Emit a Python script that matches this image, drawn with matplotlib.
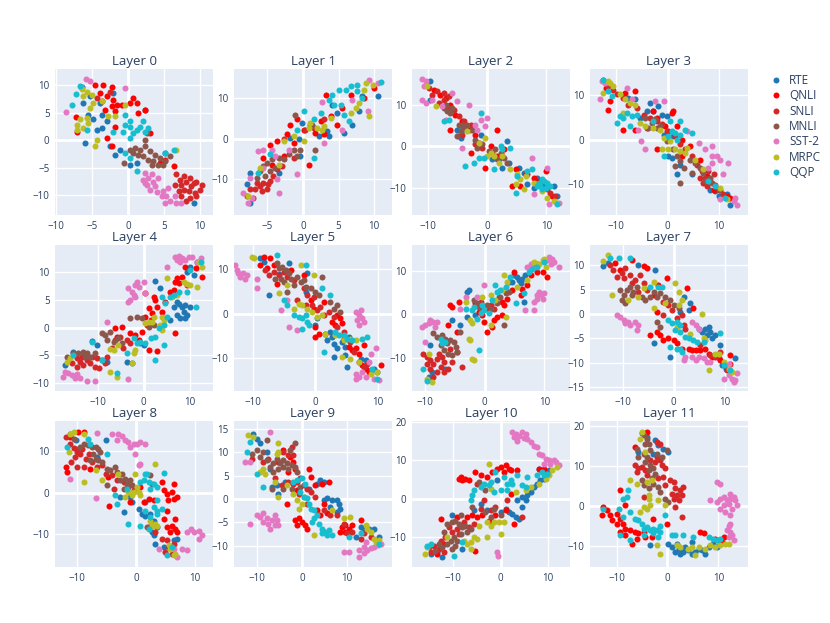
import matplotlib.pyplot as plt
from matplotlib.ticker import MultipleLocator
from matplotlib.lines import Line2D

plt.rcParams['font.family'] = ['Open Sans', 'DejaVu Sans']

TASKS = ["RTE", "QNLI", "SNLI", "MNLI", "SST-2", "MRPC", "QQP"]
COLORS = ["#1f77b4", "#ff0000", "#d62728", "#8c564b", "#e377c2", "#bcbd22", "#17becf"]

# points, (x, y) per task for each layer
L0 = {
    "RTE": [(-6.5,9.8),(-5.3,8.0),(-4.0,6.8),(-6.3,6.8),(-4.9,3.8),(-4.4,1.9),(-3.7,2.2),(-6.0,-0.5),(-1.9,-2.6),(-1.2,-1.7),
            (-2.1,8.6),(-3.0,3.5),(-5.6,4.7),(-3.7,4.7),(2.3,5.5),(1.2,-4.1),(5.1,-2.3),(9.1,-11.4),(0.2,-4.4),(-2.6,-1.1)],
    "QNLI": [(-4.7,10.1),(-3.5,10.1),(-2.3,9.8),(-4.0,8.6),(-3.0,8.0),(-2.1,7.4),(-1.6,6.5),(-1.9,5.3),(-0.9,6.5),(0.7,7.7),
             (0.2,6.8),(1.2,6.8),(2.3,5.6),(1.4,5.0),(-2.3,6.2),(-3.7,7.1),(-3.3,5.6),(-7.3,4.2),(-7.2,1.5),(-2.3,-1.1),
             (-3.0,0.4),(-1.9,2.5),(6.3,-4.7),(4.4,-4.1),(3.0,1.3),(5.1,-3.5)],
    "SNLI": [(6.7,-6.2),(7.7,-6.5),(8.6,-6.8),(9.5,-7.5),(10.2,-8.1),(10.0,-9.0),(9.3,-9.6),(8.6,-10.5),(8.1,-11.1),(7.4,-10.2),
             (7.0,-9.3),(7.4,-8.1),(8.1,-7.5),(8.8,-8.4),(8.4,-9.3),(7.7,-9.0),(9.1,-7.8),(7.2,-7.2),(9.5,-10.2),(6.5,-8.1),
             (-4.4,7.7),(-2.6,8.9)],
    "MNLI": [(0.2,-1.7),(0.9,-1.4),(1.6,-1.7),(2.3,-1.1),(3.0,-2.0),(3.7,-2.6),(4.4,-3.2),(5.1,-3.8),(4.2,-4.4),(3.5,-3.8),
             (2.8,-3.5),(2.1,-2.9),(1.4,-2.6),(0.7,-2.3),(2.6,1.3),(2.3,0.1),(4.9,-4.4),(-0.6,-4.1),(5.8,-2.9),(3.3,-4.4)],
    "SST-2": [(-5.9,11.2),(-5.3,10.9),(-6.6,9.8),(-8.7,5.1),(-0.5,9.6),(2.3,-5.9),(2.8,-6.8),(2.3,-7.8),(3.5,-7.5),(4.2,-6.8),
              (3.0,-9.0),(3.7,-8.4),(4.9,-9.3),(5.3,-10.2),(5.8,-11.1),(5.1,-11.4),(6.7,-11.5),(7.4,-11.5),(4.7,-10.2),(4.0,-9.5),
              (2.6,-8.1),(2.1,-7.2),(3.3,-6.2),(6.5,-10.2),(5.6,-8.7)],
    "MRPC": [(-6.5,9.3),(-5.8,8.9),(-5.1,8.3),(-6.3,8.0),(-4.9,6.8),(-5.3,5.9),(-6.7,3.8),(-7.2,2.8),(-5.6,3.2),(-5.8,4.1),
             (-4.4,0.1),(-4.7,-1.1),(-3.7,7.1),(-2.8,4.4),(-1.9,4.4),(-0.5,6.5),(6.7,-1.7),(-6.3,2.2),(-7.2,1.9)],
    "QQP": [(-7.9,6.5),(-7.3,8.4),(-6.7,9.9),(-0.5,4.7),(-0.5,2.8),(-0.7,1.6),(0.2,2.5),(0.7,1.3),(1.2,1.9),(2.1,3.5),
            (2.3,1.6),(1.6,2.5),(2.8,2.2),(0.2,0.4),(-0.5,-2.3),(0.2,-3.2),(1.2,-5.6),(6.3,-1.7),(5.1,-2.3),(-5.8,1.9),
            (-2.1,1.6),(0.2,3.5)],
}
L1 = {
    "RTE": [(-7.9,-11.3),(-7.5,-8.4),(-3.4,-8.4),(-1.8,0.2),(-0.6,-0.2),(-0.1,3.8),(1.0,3.4),(2.2,0.6),(4.1,8.3),(4.8,6.3),
            (5.8,1.4),(6.9,3.4),(7.9,6.7),(8.3,10.4),(10.5,10.4),(3.6,0.6),(-0.4,-4.3),(3.4,1.8),(-7.5,-15.8)],
    "QNLI": [(3.2,10.8),(-2.3,1.0),(-0.8,4.7),(-1.8,3.4),(-3.7,-0.7),(-4.6,-1.5),(-5.6,-4.7),(-2.7,-4.3),(0.8,-6.4),(0.1,2.2),
             (2.5,4.2),(3.9,5.5),(5.5,7.5),(8.6,10.0),(10.0,12.4),(6.7,10.8),(1.7,1.4),(2.9,1.0),(-4.4,-6.4),(-1.3,-1.1),(4.8,3.4)],
    "SNLI": [(-6.5,-10.9),(-6.0,-11.7),(-5.6,-10.9),(-5.1,-12.5),(-5.8,-12.9),(-4.9,-11.3),(-4.6,-10.4),(-6.7,-12.5),(-7.0,-14.5),
             (-7.9,-14.1),(-4.2,-9.2),(-3.7,-7.6),(-7.5,-12.5),(-3.0,-6.8),(-1.3,-4.7),(0.3,2.2),(1.5,2.6),(2.9,4.7),(-2.7,-0.2)],
    "MNLI": [(-5.6,-6.8),(-5.1,-6.0),(-4.4,-5.1),(-3.4,-4.7),(-2.7,-5.1),(-2.0,-3.9),(-1.3,-2.7),(-4.6,-8.0),(-6.0,-8.0),
             (-6.5,-9.6),(-1.1,5.9),(1.3,3.4),(1.7,-2.7),(-0.4,-2.7),(-0.8,-4.3),(-5.3,-9.2),(-3.9,-7.2)],
    "SST-2": [(-8.4,-13.3),(-7.7,-15.8),(-7.2,-14.5),(-7.5,-9.6),(-6.3,-3.1),(-5.6,-7.2),(-3.9,-4.3),(-3.7,-10.0),(-3.4,-13.3),
              (-0.8,-8.8),(2.7,9.1),(2.9,-1.1),(5.5,2.2),(9.1,6.7),(9.3,14.4),(10.5,13.6),(-5.6,-2.7),(-4.4,-2.7),(-2.0,-2.7),(6.9,9.6)],
    "MRPC": [(-7.7,-14.1),(-6.0,-7.2),(-2.7,-0.7),(-1.3,0.6),(0.1,-0.7),(0.8,2.6),(2.0,2.6),(1.0,3.8),(2.7,2.2),(3.9,5.1),
             (6.7,6.3),(7.4,7.5),(7.9,8.7),(8.6,12.0),(8.8,13.6),(9.8,13.2),(9.3,5.5),(-3.4,-6.4),(2.9,3.0)],
    "QQP": [(-6.3,-8.4),(-4.6,-3.9),(-0.8,2.2),(0.1,6.7),(1.5,-4.7),(1.5,4.7),(3.6,9.6),(5.0,12.0),(6.0,12.0),(6.7,12.8),
            (7.6,11.6),(8.3,10.0),(10.9,13.8),(5.8,5.9),(6.5,4.2),(5.3,8.3),(4.3,8.3),(7.6,13.2),(2.5,6.3),(4.1,10.8)],
}
L2 = {
    "RTE": [(-9.7,15.8),(-9.6,11.2),(-5.1,4.0),(-4.8,2.4),(-4.5,2.0),(-4.2,4.0),(-1.1,2.8),(0.8,-3.2),(2.0,-3.2),(2.5,-5.2),
            (3.4,1.2),(5.4,-5.2),(6.2,-6.4),(6.8,-9.2),(7.9,-10.0),(9.6,-9.2),(11.3,-9.6),(11.8,-12.0),(8.5,-7.6),(3.7,-4.0)],
    "QNLI": [(-9.0,13.6),(-7.9,12.4),(-7.0,11.6),(-6.2,10.0),(-5.4,7.6),(-4.2,6.0),(-6.2,4.0),(-3.1,4.0),(-2.0,2.8),(-1.4,0.8),
             (-2.8,-1.6),(-0.3,-5.2),(1.7,-2.4),(1.7,4.0),(2.8,-0.8),(4.8,-5.6),(6.5,-6.8),(7.9,-7.6),(8.7,-8.4),(9.9,-6.0),
             (5.6,-9.6),(11.0,-12.0),(0.6,0.0),(4.2,-9.6)],
    "SNLI": [(-9.9,14.0),(-9.3,12.4),(-8.5,13.2),(-7.3,12.8),(-6.5,12.0),(-8.2,10.4),(-7.3,11.2),(-6.5,9.2),(-5.6,8.8),(-4.8,7.2),
             (-3.9,6.0),(-2.8,5.2),(-4.2,2.8),(-2.0,0.4),(-0.8,-0.4),(0.8,-1.6),(2.5,-2.4),(6.8,-6.8),(8.5,-8.8),(10.1,-10.4),
             (10.7,-11.2),(11.5,-12.0)],
    "MNLI": [(-7.3,9.2),(-6.8,8.4),(-6.2,8.0),(-7.0,10.0),(-5.9,9.2),(-4.8,5.2),(-4.2,5.2),(-3.7,4.4),(-3.4,5.2),(-2.5,4.0),
             (-4.5,3.6),(-2.0,1.6),(-0.8,0.4),(0.3,-1.2),(1.4,-0.8),(2.3,-1.6),(2.8,-2.8),(3.4,-4.0),(1.7,-3.2),(-1.7,-0.4),(-5.1,2.4)],
    "SST-2": [(-11.0,16.2),(-10.4,15.6),(-10.7,14.4),(-11.0,11.2),(-10.4,10.4),(-5.9,12.8),(-5.1,10.8),(-3.1,10.0),(-1.1,6.4),
              (0.0,6.8),(-0.3,4.8),(-4.2,-0.4),(-1.7,4.0),(7.6,-2.8),(10.1,-5.2),(7.9,-11.6),(10.4,-14.0),(12.1,-13.6),(-9.3,11.2),
              (-7.6,9.6),(-2.0,5.2),(-7.0,6.4)],
    "MRPC": [(-10.1,14.4),(-8.7,9.6),(-3.4,3.6),(-1.4,0.8),(-0.3,2.0),(0.6,-1.6),(1.1,-2.4),(0.0,-2.4),(2.5,-2.4),(2.0,-4.0),
             (3.9,-5.6),(5.1,-6.8),(5.6,-8.0),(4.8,-9.2),(6.2,-10.4),(7.9,-8.8),(9.3,-10.8),(10.1,-12.4),(11.3,-13.2),(11.8,-13.6),(6.5,-7.2)],
    "QQP": [(-7.3,6.0),(-6.5,6.4),(-1.1,8.0),(-3.7,-4.8),(-1.4,-2.8),(-2.3,-4.0),(-0.6,-2.8),(1.1,-5.6),(2.3,0.0),(2.5,-0.8),
            (3.9,-0.4),(5.1,-7.2),(6.8,-6.0),(7.6,-5.6),(8.7,-8.8),(9.0,-9.6),(9.6,-8.4),(10.1,-8.8),(9.3,-10.4),(8.5,-9.6),
            (10.7,-9.6),(4.8,-11.2),(11.8,-14.0),(9.3,-8.0),(9.9,-10.0)],
}
L3 = {
    "RTE": [(-12.5,13.3),(-7.7,9.3),(-6.4,9.0),(-4.1,6.3),(-2.8,6.3),(-1.2,5.6),(-0.2,5.2),(-3.4,8.2),(-1.8,7.5),(-5.4,4.9),
            (1.1,0.7),(0.1,-3.7),(0.8,-4.1),(2.4,-5.6),(1.8,-7.8),(4.7,-7.8),(8.2,-11.2),(9.2,-11.6),(9.9,-12.7),(11.5,-12.3),
            (12.1,-14.6),(-0.8,1.1)],
    "QNLI": [(-11.9,11.6),(-11.2,8.6),(-11.6,6.7),(-8.3,10.4),(-6.4,10.8),(-8.6,2.2),(-6.4,2.2),(-4.1,2.6),(-2.8,6.3),(-2.1,4.9),
             (0.8,6.0),(1.1,6.3),(1.8,3.0),(2.7,0.0),(4.4,-1.5),(0.1,1.9),(2.7,-3.7),(6.3,-4.5),(7.6,-8.2),(8.9,-11.2),
             (11.5,-12.7),(12.1,-13.1),(-2.1,-2.2),(-0.5,3.0)],
    "SNLI": [(-11.6,11.9),(-10.6,11.2),(-9.9,10.1),(-8.6,9.3),(-7.7,7.8),(-6.0,7.1),(-4.7,5.6),(-3.4,4.9),(-2.1,4.1),(-1.2,3.4),
             (-0.2,1.9),(1.4,0.7),(2.4,-1.1),(3.4,-2.2),(4.7,-3.7),(5.6,-5.6),(6.6,-7.1),(7.3,-8.6),(8.2,-9.3),(9.2,-10.1),
             (7.6,-10.4),(6.9,-9.7),(10.2,-11.2),(10.8,-12.3),(8.9,-7.8),(7.9,-7.1),(6.3,-8.6)],
    "MNLI": [(-4.4,4.9),(-3.1,3.7),(-2.5,4.5),(-1.5,3.0),(-3.8,2.6),(-2.1,2.6),(-0.2,-0.4),(1.1,-2.2),(1.8,-3.7),(2.4,-4.9),
             (3.1,-6.3),(1.4,-6.0),(4.4,-4.5),(5.3,-5.2),(6.3,-6.3),(6.9,-7.5),(8.2,-8.6),(8.6,-9.7),(7.3,-9.3),(9.9,-11.2),
             (2.4,-9.7),(4.7,-7.5)],
    "SST-2": [(-12.7,13.1),(-12.2,12.7),(-13.2,9.0),(-8.0,11.6),(-7.0,9.0),(-2.5,8.6),(-0.8,8.6),(-5.7,2.2),(-5.1,-0.4),(-4.4,-2.2),
              (3.7,1.9),(6.0,-0.7),(7.3,-2.2),(8.6,-1.5),(8.6,-3.7),(9.5,-3.7),(10.2,-4.5),(11.8,-5.2),(10.8,-7.8),(8.6,-5.2),
              (10.2,-13.4),(13.1,-13.1),(13.4,-14.6),(12.8,-13.8),(7.9,-6.3)],
    "MRPC": [(-12.5,10.4),(-11.6,13.1),(-11.2,12.7),(-10.6,11.9),(-9.3,10.1),(-8.3,9.0),(-7.3,8.2),(-6.4,7.8),(-8.6,6.0),(-5.4,3.7),
             (-4.4,3.0),(-2.8,2.6),(-1.5,2.2),(-0.8,0.4),(0.5,-0.4),(0.1,-2.2),(1.4,-2.2),(2.4,-2.6),(3.4,-3.0),(3.7,-1.9),
             (5.3,-4.5),(6.9,-6.7),(10.2,-10.8),(11.5,-13.4),(-1.2,-2.2)],
    "QQP": [(-12.5,13.4),(-11.6,10.8),(-10.9,9.7),(-9.9,3.7),(-9.3,5.2),(-8.6,4.9),(-8.0,6.0),(-7.0,5.2),(-7.3,3.0),(-6.0,5.6),
            (-2.8,4.1),(0.5,4.1),(0.1,0.7),(0.8,1.9),(1.4,1.5),(1.8,0.0),(2.4,1.1),(2.4,4.1),(4.7,1.5),(3.4,2.2),(7.9,-9.3),
            (9.2,-10.4),(11.2,-13.1),(-0.8,-3.7)],
}
L4 = {
    "RTE": [(-17.1,-6.7),(-15.3,-4.3),(-11.3,-2.4),(-10.2,-3.1),(-8.0,-6.1),(-3.6,-6.1),(-2.5,-6.4),(-0.7,-2.8),(0.0,-3.1),
            (2.5,8.4),(3.6,7.1),(6.5,3.8),(7.6,4.2),(8.4,3.8),(9.1,4.1),(10.2,3.8),(8.7,2.9),(9.5,2.3),(7.3,2.3),(8.0,1.7),
            (9.1,1.7),(10.2,11.0),(9.5,10.1),(10.9,9.5),(11.6,11.9),(5.8,1.4),(7.3,4.7)],
    "QNLI": [(0.4,6.2),(2.2,5.6),(2.5,5.0),(2.9,3.8),(1.1,3.5),(1.8,2.6),(1.5,1.4),(0.7,0.5),(-0.4,-0.7),(-1.8,-1.3),(-2.9,-1.0),
             (-4.7,0.2),(-6.2,-0.1),(-5.8,-1.6),(1.1,-4.0),(2.9,-4.2),(7.3,8.9),(7.6,8.0),(6.5,6.8),(8.4,9.2),(9.1,11.0),(9.5,7.7),
             (6.9,8.3),(12.7,9.2),(11.3,10.7),(4.7,4.7),(5.8,6.5),(4.0,2.9),(0.4,2.0),(6.9,-1.0),(-1.1,-2.2)],
    "SNLI": [(-14.5,-5.5),(-13.8,-6.1),(-13.1,-6.7),(-13.5,-5.2),(-12.4,-5.8),(-11.6,-6.4),(-10.5,-7.0),(-9.8,-7.3),(-11.3,-5.2),
             (-10.2,-5.5),(-9.1,-5.8),(-8.4,-6.4),(-8.0,-5.2),(-6.9,-3.7),(-6.2,-2.2),(-5.1,-1.6),(-4.4,-3.7),(-2.9,-2.8),(-3.6,-2.2),
             (-14.5,-7.0),(-15.6,-6.4)],
    "MNLI": [(-16.7,-5.2),(-15.3,-4.6),(-14.2,-4.6),(-13.1,-4.3),(-12.4,-4.6),(-11.6,-5.2),(-12.7,-5.2),(-10.5,-4.6),(-9.1,-1.0),
             (-8.4,-1.3),(-8.0,-2.2),(-6.5,-2.5),(-5.5,-1.9),(-4.7,-2.8),(-2.9,1.8),(-1.5,2.0),(-0.4,1.7),(1.1,0.2),(2.2,0.5),(-7.3,-0.7)],
    "SST-2": [(6.9,12.8),(7.6,13.0),(8.4,12.5),(9.1,12.2),(8.0,11.8),(7.3,12.2),(9.8,12.8),(10.5,12.7),(12.4,12.6),(5.1,11.0),
              (11.6,11.9),(-3.3,7.1),(-2.5,6.5),(-1.8,7.7),(-1.1,7.4),(-2.2,5.9),(-2.9,5.0),(-3.3,4.7),(-1.8,5.6),(0.0,8.3),
              (0.4,6.2),(-1.5,8.3),(-17.1,-7.9),(-16.4,-8.2),(-15.6,-8.5),(-14.9,-9.1),(-13.8,-9.1),(-12.4,-9.6),(-10.5,-9.6),
              (-8.0,1.0),(-3.3,-9.2),(-17.5,-8.8),(-14.5,-8.4)],
    "MRPC": [(-16.7,-6.1),(-16.0,-5.5),(-7.3,-3.8),(-7.4,-7.9),(-6.5,-4.0),(-5.5,-3.1),(-2.2,-4.6),(-1.8,-4.0),(0.4,0.8),(1.1,1.1),
             (1.8,1.1),(2.2,2.0),(3.6,0.5),(4.4,1.4),(4.0,2.0),(5.1,8.9),(6.2,5.6),(7.3,5.9),(8.7,8.3),(9.5,7.9),(10.2,7.7),
             (11.6,7.4),(12.0,11.9),(12.7,11.0),(-5.8,-8.8),(-2.5,-6.4),(4.0,-0.4)],
    "QQP": [(-15.3,-4.9),(-11.3,-2.5),(-9.1,-5.8),(-5.8,-8.2),(-3.6,-4.6),(-2.2,-1.9),(-1.5,-2.8),(-0.7,-2.5),(0.4,-2.8),(1.5,-1.9),
            (2.5,-1.6),(4.4,-3.1),(2.5,-5.8),(4.0,5.6),(4.7,4.4),(5.8,5.6),(6.5,5.9),(7.6,6.5),(9.5,6.5),(10.2,10.4),(11.3,3.8),
            (12.4,11.9),(3.3,-0.1),(4.4,0.5),(5.1,2.0)],
}
L5 = {
    "RTE": [(-8.9,12.5),(-8.3,11.6),(-7.5,4.1),(-5.9,8.9),(-4.3,11.2),(-1.3,9.0),(-1.6,4.9),(0.3,-1.1),(2.4,-4.1),(2.7,-5.2),
            (1.9,-6.0),(3.0,-6.7),(3.5,-7.8),(4.3,-6.3),(4.8,-7.5),(5.4,-5.2),(4.8,-9.3),(7.3,-10.1),(8.1,-10.4),(9.4,-12.3),
            (9.9,-13.1),(5.1,-11.9),(0.0,-2.6),(3.0,-9.7)],
    "QNLI": [(-8.3,12.7),(-8.9,10.8),(-7.3,12.3),(-7.8,10.1),(-6.7,10.8),(-6.2,6.7),(-4.0,9.7),(-1.9,8.6),(-0.8,3.0),(-0.3,1.1),
             (0.0,-3.0),(0.5,-4.5),(0.0,-5.2),(1.6,-4.5),(2.7,-1.9),(3.2,-2.6),(3.5,-0.4),(4.3,-2.2),(4.0,-1.1),(4.6,-5.6),
             (5.4,-7.5),(5.9,-8.2),(6.5,-7.8),(7.0,-9.0),(7.5,-11.6),(8.1,-12.3),(8.6,-13.1),(10.5,-11.6),(7.8,-7.1),(1.3,2.6)],
    "SNLI": [(-8.1,9.7),(-7.5,8.6),(-6.7,9.3),(-5.9,8.6),(-5.1,9.3),(-4.6,8.2),(-3.5,7.5),(-1.9,5.6),(-1.3,4.1),(-0.3,3.7),
             (-1.6,1.9),(-0.5,1.9),(0.3,0.7),(0.8,1.5),(1.3,-0.4),(2.2,0.4),(3.0,-0.7),(3.5,-3.0),(4.6,-4.1),(5.6,-6.3),
             (6.2,-8.6),(7.0,-10.8),(7.8,-11.9),(8.3,-11.2),(8.9,-12.7),(-3.0,3.0)],
    "MNLI": [(-6.2,11.2),(-5.9,10.1),(-5.4,10.4),(-4.8,9.7),(-4.3,9.0),(-5.6,7.8),(-5.1,7.1),(-4.0,7.8),(-3.5,6.3),(-3.0,8.2),
             (-2.4,7.1),(-1.9,7.5),(-1.6,6.0),(-0.8,5.6),(0.0,4.9),(0.5,4.1),(1.1,8.2),(2.4,2.6),(3.0,1.1),(3.5,1.9),(4.0,0.4),
             (-4.6,4.9),(-6.5,7.8)],
    "SST-2": [(-12.9,10.8),(-12.6,9.7),(-12.4,9.0),(-12.1,8.2),(-11.6,9.0),(-11.3,7.8),(-11.0,8.6),(-9.4,5.6),(-9.4,7.8),(-4.6,3.0),
              (-5.6,0.7),(-4.3,-3.0),(-3.0,-3.7),(6.5,0.4),(7.0,-0.4),(6.7,-1.5),(7.5,-1.1),(7.0,-2.6),(7.3,0.7),(7.8,-1.9),
              (6.5,-13.4),(7.0,-14.2),(6.5,-14.6),(7.5,-13.1),(8.1,-14.2),(9.4,-14.6),(10.2,-14.9),(8.6,-10.8),(9.7,-7.8),(8.9,-9.0)],
    "MRPC": [(-10.2,12.7),(-9.9,12.3),(-5.9,4.5),(-4.6,6.3),(-2.4,10.8),(-2.7,2.2),(-2.2,1.9),(-1.3,1.1),(-0.5,0.4),(0.3,-0.7),
             (1.1,-0.4),(1.6,-4.5),(3.2,-4.9),(4.6,-6.0),(5.6,-5.6),(6.5,-6.0),(4.3,-9.7),(5.6,-10.1),(7.0,-10.8),(9.9,-13.1),
             (8.9,-13.4),(-0.3,8.6),(-3.5,1.1)],
    "QQP": [(-6.2,13.1),(-1.5,10.8),(-5.1,3.0),(-4.6,1.9),(-3.5,-0.4),(-2.7,-0.7),(-2.2,-1.1),(-1.6,-0.4),(-1.3,-1.9),(-1.1,-2.6),
            (-2.2,-3.4),(1.3,-8.6),(3.2,-4.1),(3.8,-4.9),(4.6,-4.9),(5.1,-5.6),(5.9,-6.0),(7.5,-5.6),(8.3,-5.2),(9.1,-12.3),
            (9.9,-14.6),(1.1,5.6),(2.4,4.1)],
}
L6 = {
    "RTE": [(-3.0,5.1),(-2.7,5.5),(-5.5,-1.4),(-4.1,-2.5),(-3.0,-0.6),(-1.6,-0.2),(-9.1,-7.1),(-8.9,-13.3),(-9.4,-14.4),(-6.6,-12.5),
            (2.4,4.0),(4.0,7.4),(4.9,9.0),(5.4,8.6),(5.7,7.8),(6.3,8.2),(6.8,9.0),(8.0,11.6),(8.8,11.6),(6.6,2.8),(4.6,7.4),(6.0,7.1)],
    "QNLI": [(-5.8,2.1),(-4.4,2.8),(-1.6,2.5),(-1.0,0.5),(-0.4,-0.2),(-0.2,-1.8),(0.4,-4.1),(1.2,-2.9),(1.5,-1.4),(2.1,-0.6),
             (2.9,-0.2),(3.2,2.1),(3.8,3.6),(4.6,5.5),(4.9,9.7),(6.0,4.4),(6.3,5.9),(7.1,6.7),(7.7,9.0),(8.8,9.7),(9.7,9.7),
             (10.5,8.6),(-6.1,-2.5),(-5.5,1.7),(2.9,2.8),(0.7,0.9),(-4.6,-4.1)],
    "SNLI": [(-10.3,-9.0),(-9.7,-9.8),(-9.1,-10.6),(-8.6,-11.3),(-8.0,-10.2),(-7.7,-9.0),(-7.2,-9.8),(-6.9,-10.9),(-7.4,-12.1),
             (-8.0,-13.3),(-8.6,-14.4),(-6.9,-13.3),(-6.1,-12.5),(-5.5,-10.9),(-4.6,-8.7),(-5.8,-7.9),(-9.1,-12.5),(-9.7,-11.3),
             (-3.8,-12.1),(-0.7,2.8),(1.0,2.1),(1.5,1.3)],
    "MNLI": [(-8.6,-4.4),(-8.0,-5.2),(-7.2,-4.8),(-6.6,-5.6),(-6.3,-6.7),(-5.8,-6.0),(-5.2,-6.4),(-4.9,-7.5),(-4.6,-8.7),(-5.5,-9.4),
             (-6.1,-9.0),(-6.9,-8.3),(-7.4,-7.1),(-4.1,-4.1),(-1.3,2.5),(-1.0,1.7),(-0.4,0.9),(0.4,2.1),(1.0,1.3),(2.1,2.5),
             (2.6,4.0),(3.5,4.8),(4.0,5.1),(3.2,-2.5),(-1.8,3.2)],
    "SST-2": [(-10.5,-2.9),(-10.0,-2.5),(-9.4,-2.1),(-9.1,-1.4),(-8.6,-1.8),(-8.0,-1.8),(-8.3,-2.9),(-10.0,-6.4),(-4.1,1.3),
              (-3.2,4.0),(-1.3,4.0),(-0.2,6.7),(7.1,10.9),(7.7,11.6),(9.1,5.1),(9.4,4.4),(8.8,3.6),(8.2,2.8),(9.7,3.6),(10.0,4.8),
              (6.8,0.9),(8.2,0.9),(10.8,13.2),(11.3,12.8),(11.6,12.0),(10.5,12.4),(11.1,11.6),(12.4,10.9),(8.8,4.4)],
    "MRPC": [(-9.4,-9.0),(-9.7,-14.8),(-8.9,-15.6),(-2.7,-5.6),(-2.4,-6.0),(-2.1,-10.2),(-1.8,-10.6),(-2.1,-2.1),(-2.4,-1.4),
             (-3.2,2.8),(-0.4,4.0),(1.0,4.4),(1.8,3.2),(3.2,9.0),(3.8,7.4),(3.5,-0.6),(5.4,6.3),(7.1,7.8),(8.2,12.0),(9.1,11.6),
             (9.7,12.4),(10.0,12.8),(10.3,10.9),(1.0,-2.5),(2.9,5.5)],
    "QQP": [(-10.3,-12.6),(-9.7,-15.2),(-7.4,-5.6),(-7.2,-6.7),(-6.6,-6.4),(-3.2,1.3),(-2.1,0.9),(-1.8,1.7),(-1.3,-1.0),(-0.7,0.2),
            (-0.2,0.9),(-1.0,-8.3),(-0.4,2.1),(0.7,0.2),(1.2,3.2),(1.8,6.7),(2.1,5.1),(2.6,5.5),(3.5,6.3),(4.3,8.6),(5.2,2.5),
            (6.6,4.8),(7.4,9.7),(8.0,10.5),(8.8,10.9),(10.0,12.0)],
}
L7 = {
    "RTE": [(-13.8,9.8),(-12.8,10.4),(-6.9,10.1),(-3.6,9.1),(-3.9,-6.0),(-0.7,-8.8),(2.0,3.6),(3.3,2.2),(3.0,0.8),(1.3,0.5),
            (4.9,-3.0),(5.6,-3.6),(6.2,-3.0),(6.6,-4.3),(7.2,-3.6),(7.5,-5.0),(8.2,-4.3),(9.2,-6.4),(8.9,-9.1),(9.5,-10.5),
            (10.2,-11.2),(12.1,-9.1),(6.9,-2.6)],
    "QNLI": [(-11.5,10.4),(-10.5,9.1),(-8.2,11.1),(-5.9,9.8),(-5.2,9.4),(-3.0,6.0),(-1.3,7.4),(2.6,5.4),(-3.9,3.9),(-3.3,0.5),
             (-4.6,-4.3),(-3.3,-3.6),(-2.6,-4.3),(-2.0,-5.4),(-1.0,-5.0),(0.0,-5.4),(0.7,-6.0),(1.6,-7.1),(3.0,-7.1),(3.6,-7.4),
             (4.3,-7.4),(5.2,-7.4),(6.9,-8.1),(7.5,-8.8),(9.2,-9.5),(11.1,-10.2),(11.1,-8.5),(6.2,-7.1),(3.9,1.2)],
    "SNLI": [(-12.5,10.1),(-11.8,9.1),(-11.1,7.7),(-10.2,8.4),(-9.5,9.4),(-8.5,8.0),(-7.5,7.0),(-6.6,8.0),(-9.8,7.4),(-5.9,6.3),
             (-8.2,6.3),(-5.2,4.9),(-6.9,4.6),(-2.0,2.5),(-1.0,1.9),(-0.3,0.8),(-2.0,-0.2),(0.7,-0.9),(1.6,-0.2),(2.3,-3.0),
             (7.2,-8.5),(8.2,-8.8),(9.2,-7.8),(9.8,-10.5),(10.5,-11.5),(5.2,-6.4),(2.0,-2.3)],
    "MNLI": [(-10.5,4.9),(-9.8,3.9),(-10.2,2.9),(-9.2,4.9),(-8.5,5.6),(-7.9,4.6),(-7.2,5.6),(-8.2,3.9),(-6.2,3.6),(-5.6,2.9),
             (-4.6,3.6),(-3.9,4.6),(-3.3,3.6),(-2.6,4.3),(-1.6,3.6),(-0.7,2.9),(0.0,1.9),(1.0,1.2),(-3.3,-1.6),(-2.6,-2.6),(-9.5,2.2)],
    "SST-2": [(-11.1,-0.2),(-10.5,-0.5),(-9.8,-1.2),(-9.5,-1.9),(-8.9,-1.6),(-8.5,-2.3),(-7.5,-1.6),(-6.9,-2.3),(-7.2,-3.3),
              (2.0,-9.5),(2.3,-8.8),(3.6,-8.8),(4.3,-9.5),(4.9,-8.8),(5.9,-9.1),(6.6,-9.8),(3.6,-1.6),(4.3,-2.3),(4.9,-3.0),
              (7.2,-9.8),(9.8,-13.3),(10.8,-12.6),(11.5,-13.3),(12.1,-13.6),(12.5,-12.2),(10.8,-10.2),(11.8,-14.0)],
    "MRPC": [(-13.8,10.9),(-12.8,12.2),(-12.1,3.9),(-8.9,2.9),(-6.9,3.6),(-5.9,5.3),(-3.9,6.7),(-3.9,1.2),(-1.6,2.2),(0.3,6.3),
             (1.0,4.6),(1.0,1.9),(1.6,2.9),(0.7,-2.6),(3.3,-4.0),(5.6,0.1),(5.9,-5.0),(8.2,-8.1),(8.9,-8.1),(6.9,-11.5),
             (9.8,-9.8),(10.8,-11.2),(11.5,-11.9),(6.2,-5.4)],
    "QQP": [(-12.5,11.5),(-10.8,11.6),(-8.5,11.5),(-4.6,5.6),(-3.0,5.6),(-2.3,5.6),(-1.0,-1.2),(-0.3,-1.9),(0.7,-1.6),(1.3,-2.3),
            (0.3,-3.3),(1.3,-3.6),(2.3,-4.7),(3.0,-5.0),(3.9,-5.4),(4.6,-5.7),(0.7,-7.1),(1.3,-7.1),(-0.7,-6.7),(1.6,-7.8),
            (9.2,-3.8),(9.8,-10.5),(11.1,-11.5),(5.9,-5.7)],
}
L8 = {
    "RTE": [(-11.2,13.8),(-10.2,12.6),(-9.8,10.6),(-5.2,12.6),(-6.6,8.6),(-2.7,-1.0),(-1.0,-1.0),(-0.7,-2.2),(0.5,-3.9),(1.0,-5.1),
            (1.6,-5.5),(2.4,-5.1),(3.0,-6.7),(3.6,-8.3),(2.7,-9.5),(3.0,-10.3),(3.3,-12.3),(4.7,-13.1),(5.8,-13.1),(6.4,-11.5),
            (7.0,-11.1),(-2.1,-4.7),(1.6,-2.2)],
    "QNLI": [(-11.2,13.4),(-9.8,14.6),(-8.9,14.6),(-11.9,6.2),(-11.8,5.0),(-7.8,5.8),(-4.7,3.8),(-4.6,-3.1),(-1.0,-2.2),(1.3,-2.2),
             (2.2,-1.4),(3.0,-1.8),(4.4,2.6),(4.7,0.6),(5.3,-0.2),(6.1,0.2),(5.5,-1.8),(6.4,-1.4),(7.0,-1.0),(6.4,2.2),(5.3,-4.3),
             (4.7,-6.3),(5.3,-8.3),(6.1,-7.9),(6.7,-8.7),(5.8,-9.5),(7.0,-9.5),(5.6,-13.1),(6.7,-6.3),(0.7,1.4)],
    "SNLI": [(-11.9,13.4),(-11.2,11.8),(-10.6,10.8),(-10.1,9.8),(-9.5,9.4),(-10.4,8.6),(-11.0,7.4),(-10.1,6.2),(-8.9,6.2),(-9.2,10.6),
             (-8.6,8.2),(-8.0,9.4),(-7.5,7.4),(-6.6,6.2),(-5.8,6.6),(-5.2,4.6),(-4.1,4.2),(-3.2,3.0),(-2.1,2.6),(-1.3,1.4),(-0.4,0.6),
             (-3.8,1.0),(2.2,-8.3),(3.3,-9.5),(4.4,-11.1),(5.3,-11.5),(6.4,-12.3),(6.1,-14.7),(4.9,-14.3)],
    "MNLI": [(-11.2,14.2),(-10.6,13.0),(-9.5,11.0),(-8.9,11.8),(-8.1,11.4),(-7.5,11.0),(-6.9,11.0),(-6.4,10.6),(-6.1,9.8),(-7.3,9.4),
             (-6.9,8.2),(-6.4,7.8),(-5.8,7.4),(-4.9,5.8),(-4.4,5.4),(-3.5,6.2),(-3.2,5.0),(-2.4,4.6),(-1.8,3.4),(-1.5,2.2),(-1.0,3.0),
             (-0.7,1.8),(-2.7,3.0),(-2.1,1.0),(-4.9,1.8),(-7.8,7.8),(2.4,4.2),(2.7,2.2),(1.9,-8.3)],
    "SST-2": [(-6.6,14.4),(-4.1,14.1),(-3.0,14.2),(-2.4,13.8),(-3.2,12.6),(-1.8,12.6),(-1.3,12.2),(-0.4,11.8),(0.2,11.8),(0.7,12.2),
              (1.6,11.8),(-1.0,11.0),(-0.1,9.4),(0.7,7.0),(0.5,6.6),(-6.8,-1.3),(-11.2,3.4),(8.7,-9.5),(9.3,-8.7),(9.8,-9.5),
              (10.7,-9.1),(11.3,-10.3),(10.7,-11.1),(7.8,-13.5),(8.7,-13.9),(6.4,-13.5),(7.0,-15.5),(3.9,-13.5)],
    "MRPC": [(-11.2,14.2),(-10.6,14.6),(-8.9,14.2),(-11.5,9.8),(-8.9,2.6),(-6.9,5.4),(-5.8,3.0),(-3.0,4.6),(-1.8,-1.0),(-1.3,0.2),
             (-0.7,-0.6),(-0.4,0.2),(0.2,1.4),(0.5,0.2),(0.7,-0.6),(3.3,7.0),(2.4,-6.7),(2.7,-7.9),(3.3,-7.5),(3.6,-8.1),
             (5.6,-12.7),(5.8,-13.5),(6.4,-15.1),(6.7,-14.7),(-0.1,4.6)],
    "QQP": [(-11.8,11.0),(-8.1,13.0),(-7.8,11.8),(-4.9,9.4),(-3.5,-0.6),(-3.2,-2.6),(-1.5,1.0),(0.7,2.6),(1.6,4.6),(1.9,4.6),
            (1.3,3.0),(2.2,2.6),(2.4,1.0),(3.0,2.2),(3.6,1.4),(4.7,4.7),(3.6,-1.8),(3.0,-3.5),(3.6,-4.3),(4.4,-3.9),(3.6,-5.1),
            (2.4,-5.9),(0.7,-7.9),(-1.3,-7.5),(2.2,-8.7),(5.3,-15.1),(6.1,-13.1),(1.6,-4.3)],
}
L9 = {
    "RTE": [(-10.7,14.0),(-10.0,12.9),(-9.3,11.9),(-7.8,10.1),(-7.0,6.5),(-6.7,2.6),(-5.6,2.9),(-5.2,1.1),(-3.7,3.6),(1.5,2.2),
            (3.3,3.3),(4.1,4.0),(4.8,3.6),(4.8,-0.3),(5.6,0.1),(6.7,-0.3),(7.8,-0.3),(8.1,-1.0),(8.5,-2.1),(6.3,-1.7),(7.8,-2.8),
            (13.0,-6.0),(13.7,-6.4),(14.8,-6.4),(15.9,-6.4),(17.0,-8.1),(16.7,-9.2),(11.9,-8.1)],
    "QNLI": [(-5.2,7.9),(-4.1,10.4),(-2.6,9.0),(-1.9,7.9),(-1.5,6.5),(-3.0,5.8),(1.5,6.5),(1.9,4.7),(3.0,2.9),(4.4,3.3),(5.9,3.6),
             (3.3,-2.4),(4.8,-1.0),(4.1,-3.5),(5.6,-3.1),(-3.3,-1.0),(-1.5,-4.6),(-0.7,-4.2),(0.0,-4.9),(0.7,-5.6),(-1.1,-5.6),
             (1.1,-6.4),(8.9,-6.0),(9.6,-5.6),(10.4,-6.4),(10.7,-7.1),(9.6,-7.1),(8.5,-7.1),(11.1,-5.6),(13.0,-4.6),(-1.1,1.9)],
    "SNLI": [(-11.1,8.6),(-8.5,7.9),(-7.4,8.6),(-4.1,10.1),(-3.0,9.4),(-2.2,11.1),(-1.9,9.4),(-5.9,4.4),(-4.4,2.9),(-3.0,3.6),
             (-1.9,3.3),(-1.1,3.6),(-0.4,4.4),(0.4,2.9),(1.1,2.2),(1.9,1.5),(-0.7,1.1),(3.0,0.4),(4.8,-2.4),(6.3,-3.5),(7.8,-3.5),
             (9.3,-5.3),(10.0,-7.4),(11.1,-7.1),(13.0,-8.5),(13.7,-7.4),(15.2,-8.1),(1.1,-1.0)],
    "MNLI": [(-11.1,9.7),(-10.0,10.4),(-8.5,10.1),(-7.8,12.6),(-9.3,9.0),(-7.8,8.3),(-7.0,6.9),(-6.3,7.6),(-5.6,8.6),(-4.8,7.6),
             (-4.1,8.3),(-3.3,7.6),(-4.1,6.9),(-5.2,6.5),(-3.0,6.5),(-2.2,7.2),(-1.5,6.9),(-6.3,5.8),(-6.7,2.2),(-4.1,2.2),
             (-2.2,2.2),(-0.4,2.6),(-1.1,5.8),(-2.6,10.4),(-1.5,11.9)],
    "SST-2": [(-12.6,7.9),(-11.5,7.9),(-7.0,14.4),(-11.5,-5.3),(-10.0,-3.5),(-9.3,-3.9),(-8.5,-3.1),(-7.8,-4.2),(-8.5,-4.9),
              (-7.4,-5.3),(-6.7,-4.6),(-5.9,-3.5),(-5.6,-4.6),(-5.2,-5.6),(-7.0,-6.4),(-5.9,-5.6),(9.3,-11.4),(10.4,-11.4),
              (12.6,-11.0),(13.7,-10.3),(14.4,-11.0),(15.2,-10.6),(15.9,-10.3),(16.7,-9.9),(17.4,-9.6),(13.7,-11.7),(12.6,-12.4),
              (14.1,-9.3)],
    "MRPC": [(-11.9,13.6),(-10.7,13.3),(-9.3,5.8),(-8.5,6.5),(-8.1,5.4),(-5.6,9.7),(-5.2,11.9),(-5.2,10.1),(-5.2,0.4),(-3.3,2.9),
             (-1.9,1.1),(-1.1,-0.3),(-0.7,-2.1),(0.0,-1.0),(0.4,0.4),(2.6,-7.8),(6.7,-2.4),(9.3,-4.2),(10.7,-3.9),(14.1,-5.6),
             (14.4,-6.4),(15.2,-7.1),(15.9,-8.5),(17.0,-8.9),(16.3,-9.2),(-5.9,3.6)],
    "QQP": [(-12.2,10.1),(-11.5,12.2),(-10.0,5.4),(-8.5,2.6),(-1.9,3.6),(-1.1,4.0),(0.0,4.4),(0.7,3.3),(-0.4,1.5),(0.4,0.4),
            (1.1,0.1),(1.5,-1.0),(1.9,-2.1),(2.6,-2.4),(3.3,-3.5),(2.6,-4.2),(3.7,-5.3),(4.4,-6.4),(5.2,-7.1),(5.9,-6.7),
            (5.6,-7.8),(6.7,-7.8),(4.4,-7.4),(10.4,-8.1),(13.0,-7.4),(17.0,-9.6),(2.2,-4.9)],
}
L10 = {
    "RTE": [(-14.7,-14.3),(-12.3,-15.2),(-13.3,-13.9),(-10.2,-4.3),(-8.1,-13.0),(-5.6,-3.0),(-4.2,-1.3),(-2.8,-3.0),(-0.7,4.8),
            (0.0,-3.5),(1.1,-2.6),(1.8,-3.5),(2.5,-3.9),(3.2,-4.8),(3.9,-5.2),(3.5,-0.4),(4.6,-2.2),(5.3,-0.4),(5.6,0.9),
            (6.3,1.7),(7.0,3.0),(7.7,3.9),(8.4,4.8),(9.1,5.2),(9.5,6.5),(10.2,7.4),(8.1,7.8),(4.6,0.4)],
    "QNLI": [(-8.8,5.2),(-8.1,4.8),(-8.4,5.7),(-7.4,5.2),(-6.7,4.8),(-5.3,7.0),(-4.2,6.1),(-2.8,5.7),(-1.8,7.0),(-0.7,7.8),
             (0.0,8.3),(1.1,8.7),(1.8,7.8),(0.7,7.0),(2.1,7.4),(3.5,7.4),(8.1,7.8),(9.1,7.8),(-12.6,-5.2),(-9.1,-4.8),(-7.0,-4.8),
             (-6.0,-4.3),(-4.9,-4.8),(-3.9,-4.3),(-2.5,-5.7),(-1.1,-4.3),(1.1,-3.0),(2.8,-6.5),(2.1,1.3),(-13.3,-14.3),
             (-5.3,-13.5),(-11.9,-11.7)],
    "SNLI": [(-14.0,-12.2),(-13.0,-13.0),(-11.9,-13.9),(-12.6,-10.9),(-11.6,-10.0),(-10.9,-7.4),(-10.2,-8.7),(-9.1,-7.8),(-8.8,-9.1),
             (-7.7,-6.1),(-6.7,-7.4),(-5.6,-6.5),(-4.2,-2.6),(-2.1,-3.0),(-1.1,-2.2),(-3.5,-0.4),(-4.9,3.9),(1.4,-0.4),(4.6,-4.8),
             (-14.7,-13.9)],
    "MNLI": [(-15.1,-12.6),(-13.7,-13.5),(-13.0,-11.7),(-12.3,-12.6),(-11.2,-11.7),(-10.5,-10.9),(-9.8,-10.0),(-9.1,-10.9),
             (-9.5,-12.2),(-10.2,-13.0),(-8.4,-9.1),(-8.1,-7.4),(-7.4,-7.0),(-7.0,-8.7),(-6.3,-7.8),(-11.9,-8.7),(-11.2,-6.5),
             (-10.2,-6.1),(-9.5,-5.7),(-8.8,-6.5),(-8.4,-4.3),(-3.2,-3.5),(-2.1,-4.8),(-1.4,-2.6),(0.0,-4.3),(-3.2,2.2),(-4.6,4.3),
             (-6.0,-2.2)],
    "SST-2": [(2.5,17.4),(3.2,17.0),(3.9,16.5),(4.6,17.4),(5.3,17.0),(4.9,15.9),(5.6,15.7),(6.3,14.8),(7.0,13.9),(7.7,13.5),
              (3.5,15.2),(2.8,16.1),(8.1,11.7),(8.8,11.3),(9.5,10.4),(10.2,10.0),(11.2,10.0),(10.5,9.1),(11.6,9.6),(12.3,8.7),
              (9.1,9.1),(-0.7,-13.9),(-0.6,-14.8)],
    "MRPC": [(-15.4,-12.6),(-15.8,-14.3),(-11.2,-10.0),(-7.7,-10.9),(-7.0,-11.7),(-6.3,-11.3),(-5.6,-10.0),(-4.9,-10.4),(-6.3,-13.0),
             (-4.6,-7.0),(-2.8,-6.1),(-2.1,-7.0),(-1.4,-6.1),(-0.4,-6.1),(0.7,-6.1),(-2.8,-10.0),(-2.5,9.1),(-2.1,2.6),(3.2,1.7),
             (5.3,2.2),(6.3,3.0),(8.1,3.9),(9.5,5.2),(10.2,6.1),(10.9,7.4),(11.9,8.3),(0.0,-9.1)],
    "QQP": [(-15.4,-12.2),(-14.7,-11.7),(-9.8,-14.8),(-8.1,-11.3),(-6.3,-0.4),(-6.0,0.9),(-5.6,2.2),(-4.2,3.0),(-3.5,3.9),(-2.5,3.5),
            (-2.1,4.3),(-1.4,1.7),(-1.1,7.0),(0.7,5.7),(1.4,3.9),(2.1,4.8),(2.5,3.9),(3.5,6.1),(4.6,3.5),(5.3,3.0),(1.4,2.2),
            (5.6,5.7),(7.7,6.1),(8.8,7.0),(9.1,6.1),(9.8,6.5),(0.0,2.2)],
}
L11 = {
    "RTE": [(-5.0,18.3),(-4.1,17.3),(-2.4,16.5),(-1.8,15.2),(-0.8,14.4),(0.2,13.6),(-2.8,13.1),(-5.7,13.6),(-3.4,-9.9),(0.2,-9.5),
            (0.9,-10.3),(1.5,-11.5),(2.2,-10.7),(2.5,-12.0),(3.1,-11.5),(3.5,-10.3),(4.1,-11.1),(4.8,-12.0),(5.4,-11.5),
            (6.1,-10.7),(6.8,-11.1),(7.4,-12.0),(8.1,-10.3),(9.0,-9.5),(9.7,-10.3),(10.4,-9.5),(1.8,-9.5),(4.8,-9.0)],
    "QNLI": [(-9.3,3.9),(-12.6,-0.3),(-12.9,-2.3),(-11.9,-1.1),(-11.3,-2.3),(-10.9,-3.6),(-10.0,-1.9),(-9.3,-3.2),(-8.7,-4.4),
             (-8.3,-5.7),(-7.3,-6.1),(-6.4,-6.5),(-5.7,-6.9),(-4.7,-6.5),(-4.4,-7.8),(-5.9,-8.2),(-7.0,-9.5),(-8.3,-7.4),
             (-9.3,-6.5),(-10.0,-4.4),(-2.8,-3.2),(-3.1,-7.8),(-0.1,-4.4),(-8.3,0.2),(-4.1,18.6),(-6.4,14.8),(6.4,-6.5),
             (7.1,-6.9),(9.4,-8.2),(10.7,-9.0),(11.0,-7.8)],
    "SNLI": [(-6.4,10.2),(-5.7,9.4),(-5.9,8.5),(-5.0,9.8),(-4.4,9.0),(-4.1,7.7),(-3.4,11.5),(-2.4,11.0),(-2.1,12.3),(-1.4,11.5),
             (-1.1,10.2),(-0.5,9.4),(-0.8,7.3),(-0.5,5.2),(0.5,6.4),(1.2,6.0),(1.5,4.4),(0.9,3.1),(1.2,1.8),(2.2,1.4),(1.8,2.7),
             (2.8,2.7),(3.1,4.8),(2.5,3.9),(1.5,-0.3),(2.8,-2.8),(-1.4,15.6),(-2.1,16.1),(-1.8,6.9),(-4.7,2.3)],
    "MNLI": [(-4.7,17.7),(-4.1,16.9),(-4.4,15.6),(-3.7,15.6),(-6.0,14.4),(-4.7,13.1),(-4.1,12.3),(-4.4,11.0),(-3.4,10.2),(-3.7,9.0),
             (-2.8,9.4),(-2.4,8.1),(-3.1,6.9),(-5.0,6.4),(-4.7,5.2),(-3.7,4.4),(-2.8,5.6),(-1.8,4.8),(-1.4,3.5),(-0.5,1.8),(0.2,1.0),
             (-2.1,13.1),(-1.1,12.3),(-0.1,14.0),(-5.7,12.3),(-3.4,14.0)],
    "SST-2": [(9.7,6.0),(10.4,5.6),(8.4,1.4),(9.7,1.0),(10.4,1.8),(11.0,2.3),(11.7,1.4),(12.3,1.8),(13.0,2.3),(12.0,0.6),(11.0,0.2),
              (10.4,-0.7),(11.3,-1.5),(12.3,-2.3),(12.6,-0.7),(13.6,0.2),(13.3,1.4),(12.3,3.1),(12.0,-4.9),(11.7,-6.1),(12.3,-6.5),
              (12.6,-7.4),(12.0,-7.8),(13.0,-8.6),(12.3,-4.4)],
    "MRPC": [(-5.0,18.6),(-5.4,16.9),(-4.4,13.6),(-7.3,6.4),(-6.0,5.6),(-4.1,6.0),(-3.1,6.4),(-3.7,2.7),(-3.7,1.8),(-4.7,-0.3),
             (-4.1,-0.7),(-5.4,-1.5),(-3.4,0.2),(-1.8,1.4),(-0.5,0.2),(1.8,-9.9),(2.5,-10.3),(4.1,-10.7),(4.8,-10.3),(5.4,-12.4),
             (6.1,-10.3),(7.4,-10.7),(8.4,-9.9),(9.4,-10.3),(10.4,-9.9),(11.3,-9.5),(12.0,-9.5),(-2.1,-9.9),(-1.4,-12.1)],
    "QQP": [(-7.7,3.9),(-8.0,2.3),(-12.6,-0.7),(-9.6,-0.7),(-8.7,-2.8),(-7.3,-1.5),(-6.4,-3.2),(-5.7,-3.6),(-5.0,-4.4),(-4.7,-5.7),
            (-4.1,-5.3),(-3.4,-6.1),(-2.8,-5.7),(-2.1,-6.1),(-1.4,-6.5),(-1.4,-4.9),(-2.8,-6.9),(-4.7,-7.4),(-9.3,-7.4),(-7.3,-8.6),
            (-1.8,-7.8),(-0.5,-2.3),(0.9,-7.4),(1.5,-7.4),(3.1,-7.4),(5.1,-7.8),(8.1,-7.8),(9.0,-8.2),(9.7,-8.6),(10.4,-8.2),(-8.7,1.8)],
}
LAYERS = [L0, L1, L2, L3, L4, L5, L6, L7, L8, L9, L10, L11]

# axis ranges and tick steps as shown in the reference
XLIM = [(-10.2, 11.8), (-9.7, 12.5), (-12.7, 14.0), (-15.1, 15.6), (-19.3, 15.1), (-13.1, 12.3),
        (-12.2, 14.3), (-16.4, 14.6), (-13.8, 13.1), (-15.0, 19.9), (-18.6, 14.6), (-15.2, 15.8)]
YLIM = [(-13.6, 13.0), (-18.8, 17.1), (-16.6, 18.6), (-16.9, 15.8), (-11.4, 14.9), (-17.3, 15.3),
        (-17.6, 15.9), (-15.8, 14.2), (-17.9, 17.3), (-14.6, 16.7), (-17.8, 20.3), (-15.3, 21.3)]
XSTEP = [5, 5, 10, 10, 10, 10, 10, 10, 10, 10, 10, 10]
YSTEP = [5, 10, 10, 10, 5, 10, 10, 5, 10, 5, 10, 10]

W, H = 830, 623
COL_X = [55, 234, 412, 590]
ROW_Y = [69, 245, 421]
PW, PH = 158, 146

fig = plt.figure(figsize=(W / 100, H / 100), dpi=100)
for i, layer in enumerate(LAYERS):
    r, c = divmod(i, 4)
    ax = fig.add_axes([COL_X[c] / W, 1 - (ROW_Y[r] + PH) / H, PW / W, PH / H])
    ax.set_facecolor("#E5ECF6")
    for name, col in zip(TASKS, COLORS):
        pts = layer[name]
        ax.scatter([p[0] for p in pts], [p[1] for p in pts], s=19, color=col, linewidths=0, zorder=3)
    ax.set_xlim(*XLIM[i])
    ax.set_ylim(*YLIM[i])
    ax.xaxis.set_major_locator(MultipleLocator(XSTEP[i]))
    ax.yaxis.set_major_locator(MultipleLocator(YSTEP[i]))
    ax.grid(True, color="white", linewidth=1.0, zorder=0)
    ax.axhline(0, color="white", linewidth=2, zorder=1)
    ax.axvline(0, color="white", linewidth=2, zorder=1)
    ax.set_axisbelow(True)
    for s in ax.spines.values():
        s.set_visible(False)
    ax.tick_params(length=0, labelsize=7, colors="#2a3f5f", pad=4)
    ax.set_title("Layer %d" % i, fontsize=9.5, color="#2a3f5f", pad=3)

handles = [Line2D([], [], marker="o", linestyle="", markersize=4.3, markerfacecolor=c, markeredgewidth=0)
           for c in COLORS]
fig.legend(handles, TASKS, loc="upper left", bbox_to_anchor=(769 / W, 1 - 74 / H), frameon=False,
           fontsize=8.5, labelcolor="#2a3f5f", handletextpad=0.5, labelspacing=0.2, handlelength=1.2,
           borderpad=0, borderaxespad=0)

fig.savefig("out.png", dpi=100)
